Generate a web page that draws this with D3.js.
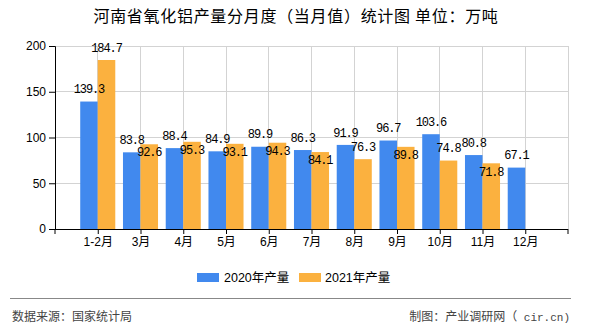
<!DOCTYPE html>
<html><head><meta charset="utf-8">
<script src="https://cdn.jsdelivr.net/npm/d3@7"></script>
<style>body{margin:0;background:#fff}svg{display:block}</style>
</head><body>
<svg id="c" width="590" height="330"></svg>
<script>
const categories = ["1-2月","3月","4月","5月","6月","7月","8月","9月","10月","11月","12月"];
const series2020 = [139.3,83.8,88.4,84.9,89.9,86.3,91.9,96.7,103.6,80.8,67.1];
const series2021 = [184.7,92.6,95.3,93.1,94.3,84.1,76.3,89.8,74.8,71.8,null];
const seriesNames = ["2020年产量","2021年产量"];
const yTicks = [0,50,100,150,200];
const colors = ["#4189EE","#FBB13F"];

const svg = d3.select("#c");
const L = 55, R = 568, T = 46, B = 229;
const cjk = "'Noto Sans CJK SC','Noto Sans',sans-serif";
const x = d3.scalePoint().domain(categories).range([L, R]).padding(1);
const y = d3.scaleLinear().domain([0, 200]).range([B, T]);
const bw = x.step() * 0.41;

// title
svg.append("text").attr("x", 296).attr("y", 22).attr("text-anchor","middle")
  .style("font-family", cjk).style("font-size","16px").style("letter-spacing","0.7px").attr("fill","#000")
  .text("河南省氧化铝产量分月度（当月值）统计图  单位：万吨");

// grid
const g = svg.append("g");
g.selectAll(".hg").data(yTicks.filter(d=>d>0)).enter().append("line")
  .attr("x1", L).attr("x2", R).attr("y1", d=>y(d)).attr("y2", d=>y(d))
  .attr("stroke","#d3d3d3").attr("stroke-width",1).attr("shape-rendering","crispEdges");
g.selectAll(".vg").data(categories).enter().append("line")
  .attr("x1", d=>x(d)).attr("x2", d=>x(d)).attr("y1", T).attr("y2", B)
  .attr("stroke","#d3d3d3").attr("stroke-width",1).attr("shape-rendering","crispEdges");
g.append("line").attr("x1",R).attr("x2",R).attr("y1",T).attr("y2",B)
  .attr("stroke","#d3d3d3").attr("shape-rendering","crispEdges");

// bars
const sets = [series2020, series2021];
sets.forEach((s, si) => {
  svg.append("g").selectAll("rect").data(categories.map((c,i)=>({c, v:s[i]})).filter(d=>d.v!=null))
    .enter().append("rect")
    .attr("x", d => si===0 ? x(d.c)-bw : x(d.c))
    .attr("width", bw)
    .attr("y", d => y(d.v)).attr("height", d => y(0)-y(d.v))
    .attr("fill", colors[si]);
});

// axes
const yAxis = d3.axisLeft(y).tickValues(yTicks).tickSize(6).tickPadding(3);
const ya = svg.append("g").attr("transform",`translate(${L},0)`).call(yAxis);
ya.select(".domain").attr("stroke","#000");
ya.selectAll("text").style("font-family","'Liberation Sans',Arial,sans-serif").style("font-size","12px").attr("fill","#000");
const xAxis = d3.axisBottom(x).tickSize(5).tickSizeOuter(0).tickPadding(3);
const xa = svg.append("g").attr("transform",`translate(0,${B})`).call(xAxis);
xa.select(".domain").attr("stroke","#000").attr("d", `M${L},0.5H${R}`);
xa.selectAll("text").style("font-family","'Liberation Sans',"+cjk).style("font-size","12px").attr("fill","#000");
[L, R].forEach(px => xa.append("line").attr("x1",px).attr("x2",px).attr("y1",0).attr("y2",5).attr("stroke","#000"));

// value labels with simple overlap rule
const lf = "'Liberation Mono','DejaVu Sans Mono',monospace";
const labels = [];
categories.forEach((c,i) => {
  const b = series2020[i];
  const by = y(b) - 12.5;
  labels.push({x: x(c)-bw/2, y: by, t: b.toFixed(1)});
  const o = series2021[i];
  if (o != null) {
    let oy = y(o) - 12.5;
    if (Math.abs(oy - by) < 13) oy = y(o) + 8;
    labels.push({x: x(c)+bw/2, y: oy, t: o.toFixed(1)});
  }
});
svg.append("g").selectAll("text").data(labels).enter().append("text")
  .attr("x", d=>d.x).attr("y", d=>d.y).attr("dy","0.35em").attr("text-anchor","middle")
  .style("font-family", lf).style("font-size","12px").style("letter-spacing","-1.1px").attr("fill","#000").text(d=>d.t);

// legend
const leg = [{x:197, tx:224},{x:299, tx:325}];
leg.forEach((l,i) => {
  svg.append("rect").attr("x",l.x).attr("y",273).attr("width",22).attr("height",9).attr("fill",colors[i]);
  svg.append("text").attr("x",l.tx).attr("y",277.5).attr("dy","0.35em")
    .style("font-family","'Liberation Sans',"+cjk).style("font-size","12.5px").attr("fill","#000").text(seriesNames[i]);
});

// footer
svg.append("line").attr("x1",10).attr("x2",571).attr("y1",298.5).attr("y2",298.5).attr("stroke","#888").attr("stroke-width",1);
svg.append("text").attr("x",12).attr("y",317).attr("dy","0.35em").style("font-family",cjk).style("font-size","12px").attr("fill","#444").text("数据来源：国家统计局");
const ft = svg.append("text").attr("x",570).attr("y",317).attr("dy","0.35em").attr("text-anchor","end").style("font-family",cjk).style("font-size","12px").attr("fill","#444");
ft.append("tspan").text("制图：产业调研网（");
ft.append("tspan").style("font-family",lf).style("font-size","11px").text(" cir.cn)");
</script>
</body></html>
